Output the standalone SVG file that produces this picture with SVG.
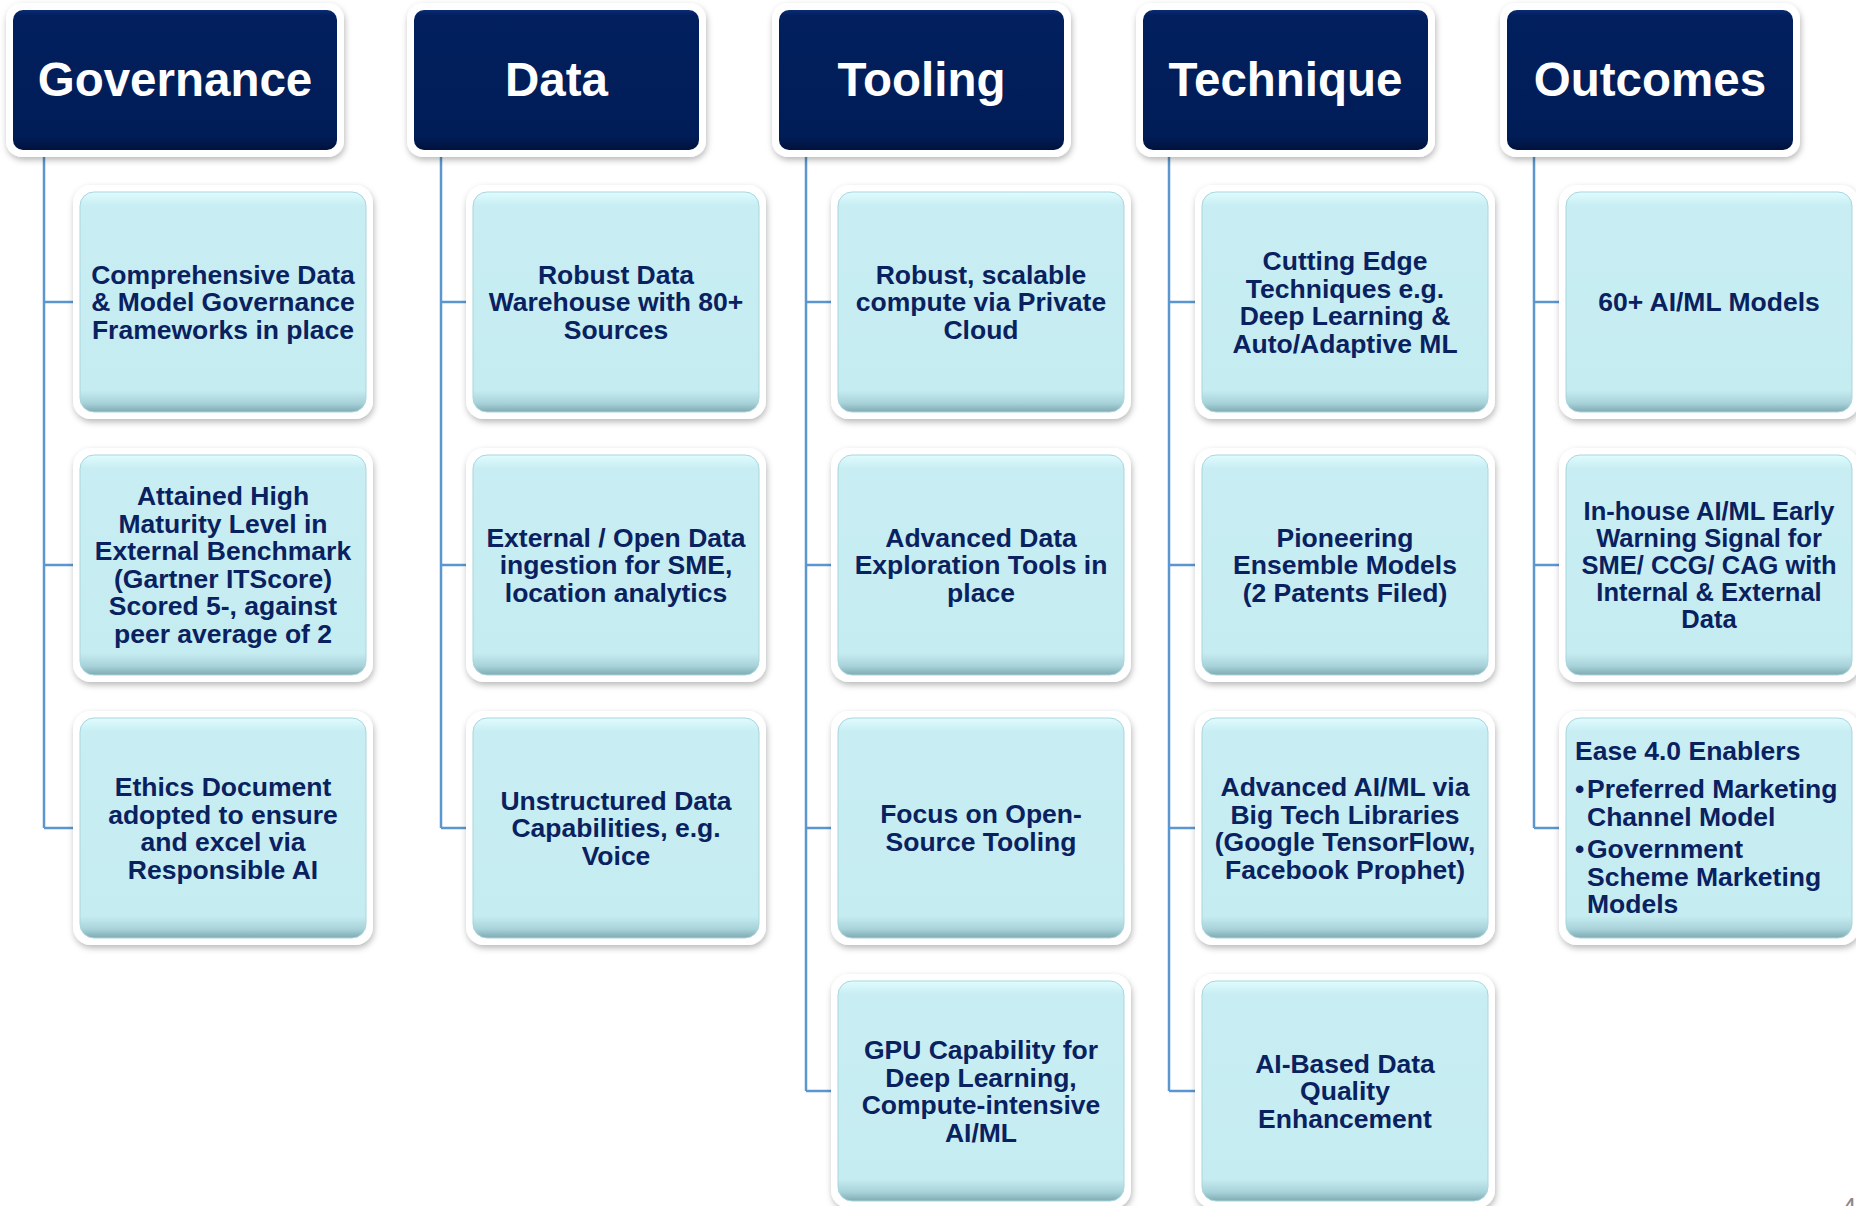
<svg xmlns="http://www.w3.org/2000/svg" width="1856" height="1206" viewBox="0 0 1856 1206">
<defs>
  <filter id="sh" x="-10%" y="-10%" width="125%" height="130%">
    <feDropShadow dx="1" dy="3" stdDeviation="3" flood-color="#000000" flood-opacity="0.28"/>
  </filter>
  <linearGradient id="hdr" x1="0" y1="0" x2="0" y2="1">
    <stop offset="0" stop-color="#0A2B72"/>
    <stop offset="0.04" stop-color="#021F5E"/>
    <stop offset="0.9" stop-color="#011D58"/>
    <stop offset="1" stop-color="#00123C"/>
  </linearGradient>
  <linearGradient id="cy" x1="0" y1="0" x2="0" y2="1">
    <stop offset="0" stop-color="#E0FCFF"/>
    <stop offset="0.06" stop-color="#C8EEF3"/>
    <stop offset="0.9" stop-color="#C5ECF1"/>
    <stop offset="0.96" stop-color="#A8D2D9"/>
    <stop offset="1" stop-color="#7FAAB2"/>
  </linearGradient>
</defs>
<style>
  .frame { fill: #FFFFFF; filter: url(#sh); }
  .hbox { fill: url(#hdr); }
  .cbox { fill: url(#cy); stroke: #A9D6DD; stroke-width: 1; }
  .ht { font-family: "Liberation Sans", Arial, sans-serif; font-weight: bold; font-size: 47.5px; fill: #FFFFFF; text-anchor: middle; }
  .ct { font-family: "Liberation Sans", Arial, sans-serif; font-weight: bold; font-size: 26.5px; fill: #0A215F; text-anchor: middle; }
  .cl { font-family: "Liberation Sans", Arial, sans-serif; font-weight: bold; font-size: 26.5px; fill: #0A215F; }
  .sm { font-size: 25.5px; }
  .conn { fill: none; stroke: #5B96D0; stroke-width: 2.5; }
  .pg { font-family: "Liberation Sans", Arial, sans-serif; font-size: 26px; fill: #8A8A8A; }
</style>
<rect x="0" y="0" width="1856" height="1206" fill="#FFFFFF"/>

<g id="connectors">
  <path class="conn" d="M44 152 V828 M44 302 H73 M44 565 H73 M44 828 H73"/>
  <path class="conn" d="M441 152 V828 M441 302 H466 M441 565 H466 M441 828 H466"/>
  <path class="conn" d="M806 152 V1091 M806 302 H831 M806 565 H831 M806 828 H831 M806 1091 H831"/>
  <path class="conn" d="M1169 152 V1091 M1169 302 H1195 M1169 565 H1195 M1169 828 H1195 M1169 1091 H1195"/>
  <path class="conn" d="M1534 152 V828 M1534 302 H1559 M1534 565 H1559 M1534 828 H1559"/>
</g>

<!-- Headers -->
<g id="h-governance">
  <rect class="frame" x="6" y="3" width="338" height="154" rx="16"/>
  <rect class="hbox" x="13" y="10" width="324" height="140" rx="10"/>
  <text class="ht" x="175" y="96">Governance</text>
</g>
<g id="h-data">
  <rect class="frame" x="407" y="3" width="299" height="154" rx="16"/>
  <rect class="hbox" x="414" y="10" width="285" height="140" rx="10"/>
  <text class="ht" x="556.5" y="96">Data</text>
</g>
<g id="h-tooling">
  <rect class="frame" x="772" y="3" width="299" height="154" rx="16"/>
  <rect class="hbox" x="779" y="10" width="285" height="140" rx="10"/>
  <text class="ht" x="921.5" y="96">Tooling</text>
</g>
<g id="h-technique">
  <rect class="frame" x="1136" y="3" width="299" height="154" rx="16"/>
  <rect class="hbox" x="1143" y="10" width="285" height="140" rx="10"/>
  <text class="ht" x="1285.5" y="96">Technique</text>
</g>
<g id="h-outcomes">
  <rect class="frame" x="1500" y="3" width="300" height="154" rx="16"/>
  <rect class="hbox" x="1507" y="10" width="286" height="140" rx="10"/>
  <text class="ht" x="1650" y="96">Outcomes</text>
</g>

<!-- Governance children -->
<g id="gov-1">
  <rect class="frame" x="73" y="185" width="300" height="234" rx="18"/>
  <rect class="cbox" x="80" y="192" width="286" height="220" rx="14"/>
  <text class="ct" x="223" y="283.5">Comprehensive Data</text>
  <text class="ct" x="223" y="311">&amp; Model Governance</text>
  <text class="ct" x="223" y="338.5">Frameworks in place</text>
</g>
<g id="gov-2">
  <rect class="frame" x="73" y="448" width="300" height="234" rx="18"/>
  <rect class="cbox" x="80" y="455" width="286" height="220" rx="14"/>
  <text class="ct" x="223" y="505">Attained High</text>
  <text class="ct" x="223" y="532.5">Maturity Level in</text>
  <text class="ct" x="223" y="560">External Benchmark</text>
  <text class="ct" x="223" y="587.5">(Gartner ITScore)</text>
  <text class="ct" x="223" y="615">Scored 5-, against</text>
  <text class="ct" x="223" y="642.5">peer average of 2</text>
</g>
<g id="gov-3">
  <rect class="frame" x="73" y="711" width="300" height="234" rx="18"/>
  <rect class="cbox" x="80" y="718" width="286" height="220" rx="14"/>
  <text class="ct" x="223" y="796">Ethics Document</text>
  <text class="ct" x="223" y="823.5">adopted to ensure</text>
  <text class="ct" x="223" y="851">and excel via</text>
  <text class="ct" x="223" y="878.5">Responsible AI</text>
</g>

<!-- Data children -->
<g id="data-1">
  <rect class="frame" x="466" y="185" width="300" height="234" rx="18"/>
  <rect class="cbox" x="473" y="192" width="286" height="220" rx="14"/>
  <text class="ct" x="616" y="283.5">Robust Data</text>
  <text class="ct" x="616" y="311">Warehouse with 80+</text>
  <text class="ct" x="616" y="338.5">Sources</text>
</g>
<g id="data-2">
  <rect class="frame" x="466" y="448" width="300" height="234" rx="18"/>
  <rect class="cbox" x="473" y="455" width="286" height="220" rx="14"/>
  <text class="ct" x="616" y="546.5">External / Open Data</text>
  <text class="ct" x="616" y="574">ingestion for SME,</text>
  <text class="ct" x="616" y="601.5">location analytics</text>
</g>
<g id="data-3">
  <rect class="frame" x="466" y="711" width="300" height="234" rx="18"/>
  <rect class="cbox" x="473" y="718" width="286" height="220" rx="14"/>
  <text class="ct" x="616" y="809.5">Unstructured Data</text>
  <text class="ct" x="616" y="837">Capabilities, e.g.</text>
  <text class="ct" x="616" y="864.5">Voice</text>
</g>

<!-- Tooling children -->
<g id="tool-1">
  <rect class="frame" x="831" y="185" width="300" height="234" rx="18"/>
  <rect class="cbox" x="838" y="192" width="286" height="220" rx="14"/>
  <text class="ct" x="981" y="283.5">Robust, scalable</text>
  <text class="ct" x="981" y="311">compute via Private</text>
  <text class="ct" x="981" y="338.5">Cloud</text>
</g>
<g id="tool-2">
  <rect class="frame" x="831" y="448" width="300" height="234" rx="18"/>
  <rect class="cbox" x="838" y="455" width="286" height="220" rx="14"/>
  <text class="ct" x="981" y="546.5">Advanced Data</text>
  <text class="ct" x="981" y="574">Exploration Tools in</text>
  <text class="ct" x="981" y="601.5">place</text>
</g>
<g id="tool-3">
  <rect class="frame" x="831" y="711" width="300" height="234" rx="18"/>
  <rect class="cbox" x="838" y="718" width="286" height="220" rx="14"/>
  <text class="ct" x="981" y="823">Focus on Open-</text>
  <text class="ct" x="981" y="850.5">Source Tooling</text>
</g>
<g id="tool-4">
  <rect class="frame" x="831" y="974" width="300" height="234" rx="18"/>
  <rect class="cbox" x="838" y="981" width="286" height="220" rx="14"/>
  <text class="ct" x="981" y="1059">GPU Capability for</text>
  <text class="ct" x="981" y="1086.5">Deep Learning,</text>
  <text class="ct" x="981" y="1114">Compute-intensive</text>
  <text class="ct" x="981" y="1141.5">AI/ML</text>
</g>

<!-- Technique children -->
<g id="tech-1">
  <rect class="frame" x="1195" y="185" width="300" height="234" rx="18"/>
  <rect class="cbox" x="1202" y="192" width="286" height="220" rx="14"/>
  <text class="ct" x="1345" y="270">Cutting Edge</text>
  <text class="ct" x="1345" y="297.5">Techniques e.g.</text>
  <text class="ct" x="1345" y="325">Deep Learning &amp;</text>
  <text class="ct" x="1345" y="352.5">Auto/Adaptive ML</text>
</g>
<g id="tech-2">
  <rect class="frame" x="1195" y="448" width="300" height="234" rx="18"/>
  <rect class="cbox" x="1202" y="455" width="286" height="220" rx="14"/>
  <text class="ct" x="1345" y="546.5">Pioneering</text>
  <text class="ct" x="1345" y="574">Ensemble Models</text>
  <text class="ct" x="1345" y="601.5">(2 Patents Filed)</text>
</g>
<g id="tech-3">
  <rect class="frame" x="1195" y="711" width="300" height="234" rx="18"/>
  <rect class="cbox" x="1202" y="718" width="286" height="220" rx="14"/>
  <text class="ct" x="1345" y="796">Advanced AI/ML via</text>
  <text class="ct" x="1345" y="823.5">Big Tech Libraries</text>
  <text class="ct" x="1345" y="851">(Google TensorFlow,</text>
  <text class="ct" x="1345" y="878.5">Facebook Prophet)</text>
</g>
<g id="tech-4">
  <rect class="frame" x="1195" y="974" width="300" height="234" rx="18"/>
  <rect class="cbox" x="1202" y="981" width="286" height="220" rx="14"/>
  <text class="ct" x="1345" y="1072.5">AI-Based Data</text>
  <text class="ct" x="1345" y="1100">Quality</text>
  <text class="ct" x="1345" y="1127.5">Enhancement</text>
</g>

<!-- Outcomes children -->
<g id="out-1">
  <rect class="frame" x="1559" y="185" width="300" height="234" rx="18"/>
  <rect class="cbox" x="1566" y="192" width="286" height="220" rx="14"/>
  <text class="ct" x="1709" y="311">60+ AI/ML Models</text>
</g>
<g id="out-2">
  <rect class="frame" x="1559" y="448" width="300" height="234" rx="18"/>
  <rect class="cbox" x="1566" y="455" width="286" height="220" rx="14"/>
  <text class="ct sm" x="1709" y="520">In-house AI/ML Early</text>
  <text class="ct sm" x="1709" y="547">Warning Signal for</text>
  <text class="ct sm" x="1709" y="574">SME/ CCG/ CAG with</text>
  <text class="ct sm" x="1709" y="601">Internal &amp; External</text>
  <text class="ct sm" x="1709" y="628">Data</text>
</g>
<g id="out-3">
  <rect class="frame" x="1559" y="711" width="300" height="234" rx="18"/>
  <rect class="cbox" x="1566" y="718" width="286" height="220" rx="14"/>
  <text class="cl" x="1575" y="760">Ease 4.0 Enablers</text>
  <text class="cl" x="1575" y="798">•</text>
  <text class="cl" x="1587" y="798">Preferred Marketing</text>
  <text class="cl" x="1587" y="826">Channel Model</text>
  <text class="cl" x="1575" y="858">•</text>
  <text class="cl" x="1587" y="858">Government</text>
  <text class="cl" x="1587" y="885.5">Scheme Marketing</text>
  <text class="cl" x="1587" y="913">Models</text>
</g>

<text class="pg" x="1842" y="1216">4</text>
</svg>
